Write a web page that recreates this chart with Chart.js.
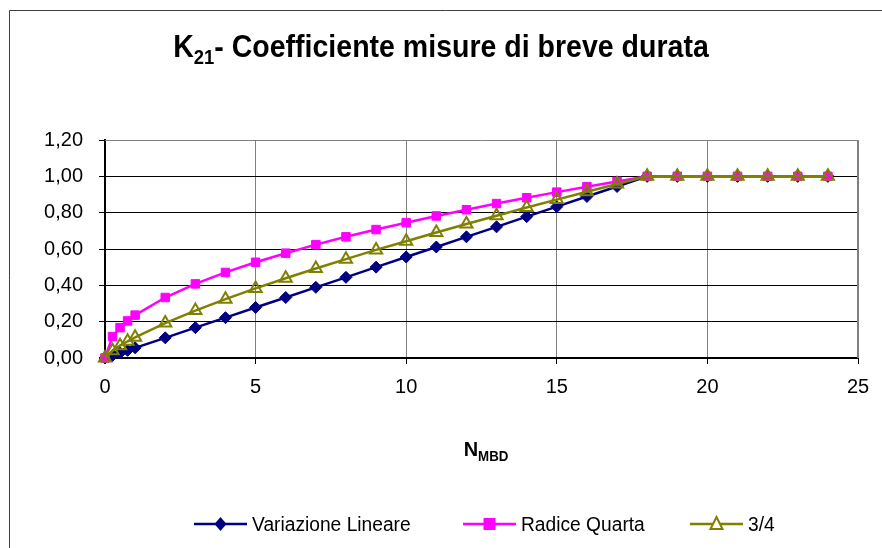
<!DOCTYPE html>
<html>
<head>
<meta charset="utf-8">
<script src="https://cdn.jsdelivr.net/npm/chart.js@4.4.1/dist/chart.umd.min.js"></script>
<style>
  html, body { margin: 0; padding: 0; background: #fff; }
  #wrap { width: 882px; height: 548px; }
</style>
</head>
<body>
<div id="wrap"><canvas id="k21"></canvas></div>
<script>
// N MBD values
const nValues = [0, 0.25, 0.5, 0.75, 1, 2, 3, 4, 5, 6, 7, 8, 9, 10, 11, 12, 13, 14, 15, 16, 17, 18, 19, 20, 21, 22, 23, 24];
const variazioneLineare = [0, 0.014, 0.028, 0.042, 0.056, 0.111, 0.167, 0.222, 0.278, 0.333, 0.389, 0.444, 0.5, 0.556, 0.611, 0.667, 0.722, 0.778, 0.833, 0.889, 0.944, 1, 1, 1, 1, 1, 1, 1];
const radiceQuarta = [0, 0.118, 0.167, 0.204, 0.236, 0.333, 0.408, 0.471, 0.527, 0.577, 0.624, 0.667, 0.707, 0.745, 0.782, 0.816, 0.85, 0.882, 0.913, 0.943, 0.972, 1, 1, 1, 1, 1, 1, 1];
const treQuarti = [0, 0.04, 0.068, 0.092, 0.114, 0.192, 0.261, 0.324, 0.383, 0.439, 0.493, 0.544, 0.595, 0.643, 0.691, 0.738, 0.783, 0.828, 0.872, 0.915, 0.958, 1, 1, 1, 1, 1, 1, 1];
const seriesNames = ['Variazione Lineare', 'Radice Quarta', '3/4'];
const xTicks = [0, 5, 10, 15, 20, 25];
const yTicks = [0, 0.2, 0.4, 0.6, 0.8, 1.0, 1.2];

const FONT = '"Liberation Sans", Arial, sans-serif';

function pts(ys) {
  return nValues.map((x, i) => ({ x: x, y: ys[i] }));
}

// draws text pieces (with subscripts) centred on cx, squeezed horizontally by sx
function drawParts(c, parts, cx, y, sx) {
  let w = 0;
  parts.forEach(p => { c.font = p.f; w += c.measureText(p.t).width; });
  c.save();
  c.translate(cx - w * sx / 2, y);
  c.scale(sx, 1);
  let x = 0;
  parts.forEach(p => { c.font = p.f; c.fillText(p.t, x, p.dy); x += c.measureText(p.t).width; });
  c.restore();
}

// frame, title, axis title and legend drawn by hand (subscripts)
const decorations = {
  id: 'decorations',
  beforeDraw(chart) {
    const c = chart.ctx;
    c.save();
    c.fillStyle = '#fff';
    c.fillRect(0, 0, chart.width, chart.height);
    c.strokeStyle = '#404040';
    c.lineWidth = 1;
    c.beginPath();
    c.moveTo(9.5, chart.height);
    c.lineTo(9.5, 10.5);
    c.lineTo(chart.width, 10.5);
    c.stroke();
    c.restore();
  },
  beforeDatasetsDraw(chart) {
    const c = chart.ctx;
    const a = chart.chartArea;
    c.save();
    c.strokeStyle = '#808080';
    c.lineWidth = 1;
    c.beginPath();
    c.moveTo(a.left, a.top + 0.5);
    c.lineTo(a.right, a.top + 0.5);
    c.stroke();
    c.lineWidth = 2;
    c.beginPath();
    c.moveTo(a.right, a.top);
    c.lineTo(a.right, a.bottom);
    c.stroke();
    c.restore();
  },
  afterDraw(chart) {
    const c = chart.ctx;
    c.save();
    c.fillStyle = '#000';
    c.textBaseline = 'alphabetic';

    // title
    drawParts(c, [
      { t: 'K', f: 'bold 31px ' + FONT, dy: 0 },
      { t: '21', f: 'bold 20px ' + FONT, dy: 7 },
      { t: '- Coefficiente misure di breve durata', f: 'bold 31px ' + FONT, dy: 0 }
    ], 441, 57, 0.92);

    // x axis title
    drawParts(c, [
      { t: 'N', f: 'bold 21px ' + FONT, dy: 0 },
      { t: 'MBD', f: 'bold 14px ' + FONT, dy: 5 }
    ], 486, 456, 0.95);

    // legend
    const ly = 524;
    const items = [
      { x: 194, ds: chart.data.datasets[0] },
      { x: 463, ds: chart.data.datasets[1] },
      { x: 690, ds: chart.data.datasets[2] }
    ];
    c.font = '20px ' + FONT;
    c.textBaseline = 'middle';
    items.forEach(it => {
      const ds = it.ds;
      c.strokeStyle = ds.borderColor;
      c.lineWidth = 2.5;
      c.beginPath();
      c.moveTo(it.x, ly);
      c.lineTo(it.x + 53, ly);
      c.stroke();
      const cx = it.x + 26.5;
      c.lineWidth = 2;
      if (ds.pointStyle === 'rectRot') {
        c.fillStyle = ds.borderColor;
        c.beginPath();
        c.moveTo(cx, ly - 7); c.lineTo(cx + 6, ly); c.lineTo(cx, ly + 7); c.lineTo(cx - 6, ly);
        c.closePath(); c.fill();
      } else if (ds.pointStyle === 'rect') {
        c.fillStyle = ds.borderColor;
        c.fillRect(cx - 6, ly - 6, 12, 12);
      } else {
        c.fillStyle = '#fff';
        c.beginPath();
        c.moveTo(cx, ly - 7); c.lineTo(cx + 6, ly + 5); c.lineTo(cx - 6, ly + 5);
        c.closePath(); c.fill(); c.stroke();
      }
      c.fillStyle = '#000';
      c.save();
      c.translate(it.x + 58, ly + 1);
      c.scale(0.96, 1);
      c.fillText(ds.label, 0, 0);
      c.restore();
    });
    c.restore();
  }
};

new Chart(document.getElementById('k21'), {
  type: 'scatter',
  data: {
    datasets: [{
      label: seriesNames[0],
      data: pts(variazioneLineare),
      showLine: true,
      clip: false,
      borderColor: '#000080',
      backgroundColor: '#000080',
      borderWidth: 2.5,
      pointStyle: 'rectRot',
      pointRadius: 6,
      pointBorderWidth: 1,
      order: 2
    }, {
      label: seriesNames[1],
      data: pts(radiceQuarta),
      showLine: true,
      clip: false,
      borderColor: '#ff00ff',
      backgroundColor: '#ff00ff',
      borderWidth: 2.5,
      pointStyle: 'rect',
      pointRadius: 6,
      pointBorderWidth: 1,
      order: 1
    }, {
      label: seriesNames[2],
      data: pts(treQuarti),
      showLine: true,
      clip: false,
      borderColor: '#808000',
      backgroundColor: 'rgba(0,0,0,0)',
      borderWidth: 2.5,
      pointStyle: 'triangle',
      pointRadius: 7,
      pointBorderWidth: 2,
      order: 0
    }]
  },
  options: {
    responsive: true,
    maintainAspectRatio: false,
    animation: false,
    layout: { padding: { top: 140, left: 36, right: 24, bottom: 150 } },
    plugins: {
      legend: { display: false },
      title: { display: false },
      tooltip: { enabled: false }
    },
    scales: {
      x: {
        type: 'linear',
        min: 0,
        max: 25,
        afterBuildTicks: s => { s.ticks = xTicks.map(v => ({ value: v })); },
        afterFit: s => { s.height = 40; },
        ticks: {
          color: '#000',
          font: { family: FONT, size: 20 },
          padding: 11,
          maxRotation: 0,
          callback: v => String(v)
        },
        grid: {
          color: ctx => (ctx.tick && ctx.tick.value > 0 && ctx.tick.value < 25) ? '#808080' : 'rgba(0,0,0,0)',
          tickColor: '#000',
          tickLength: 6,
          lineWidth: 1
        },
        border: { color: '#000', width: 2 }
      },
      y: {
        type: 'linear',
        min: 0,
        max: 1.2,
        afterBuildTicks: s => { s.ticks = yTicks.map(v => ({ value: v })); },
        afterFit: s => { s.width = 69; },
        ticks: {
          color: '#000',
          font: { family: FONT, size: 20 },
          padding: 16,
          callback: v => v.toFixed(2).replace('.', ',')
        },
        grid: {
          color: ctx => (ctx.tick && ctx.tick.value > 0 && ctx.tick.value < 1.2) ? '#000' : 'rgba(0,0,0,0)',
          tickColor: '#000',
          tickLength: 6,
          lineWidth: 1
        },
        border: { color: '#000', width: 2 }
      }
    }
  },
  plugins: [decorations]
});
</script>
</body>
</html>
